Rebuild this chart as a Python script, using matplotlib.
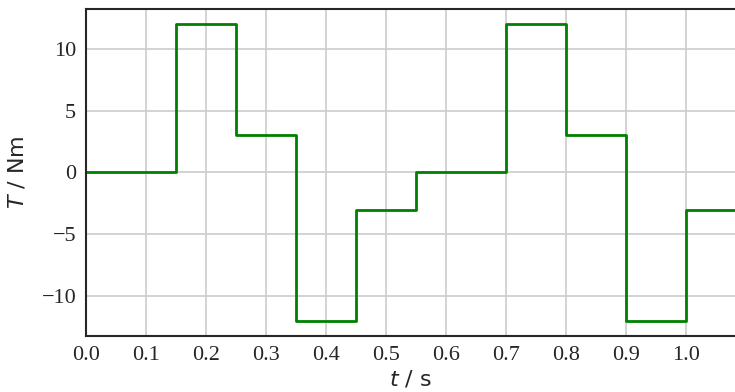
import numpy as np
import matplotlib.pyplot as plt

# torque steps: switching times and the torque held after each one
t_switch = [0.0, 0.15, 0.25, 0.35, 0.45, 0.55, 0.70, 0.80, 0.90, 1.00, 1.10]
torque = [0, 12, 3, -12, -3, 0, 12, 3, -12, -3, -3]

fig = plt.figure(figsize=(7.35, 3.92), dpi=100)
ax = fig.add_axes([0.117, 0.143, 0.883, 0.834])

ax.step(t_switch, torque, where='post', color='green', lw=2)

ax.set_xlim(0, 1.0817)
ax.set_ylim(-13.2, 13.2)
ax.set_xticks(np.arange(0, 1.01, 0.1))
ax.set_xticklabels(['%.1f' % v for v in np.arange(0, 1.01, 0.1)])
ax.set_yticks([-10, -5, 0, 5, 10])
ax.set_yticklabels(['\u221210', '\u22125', '0', '5', '10'])

for lab in ax.get_xticklabels() + ax.get_yticklabels():
    lab.set_fontfamily('Liberation Serif')
    lab.set_fontsize(16)
    lab.set_color('#262626')
ax.tick_params(length=0, pad=7)

ax.grid(True, color='#cccccc', lw=1.2)
ax.set_axisbelow(True)
for side in ['left', 'bottom', 'top']:
    ax.spines[side].set_color('#262626')
    ax.spines[side].set_linewidth(1.5)
ax.spines['right'].set_visible(False)

ax.set_xlabel('$t$ / s', fontsize=16, color='#262626', labelpad=3)
ax.set_ylabel('$T$ / Nm', fontsize=16, color='#262626', labelpad=10)

fig.savefig('out.png', dpi=100)
